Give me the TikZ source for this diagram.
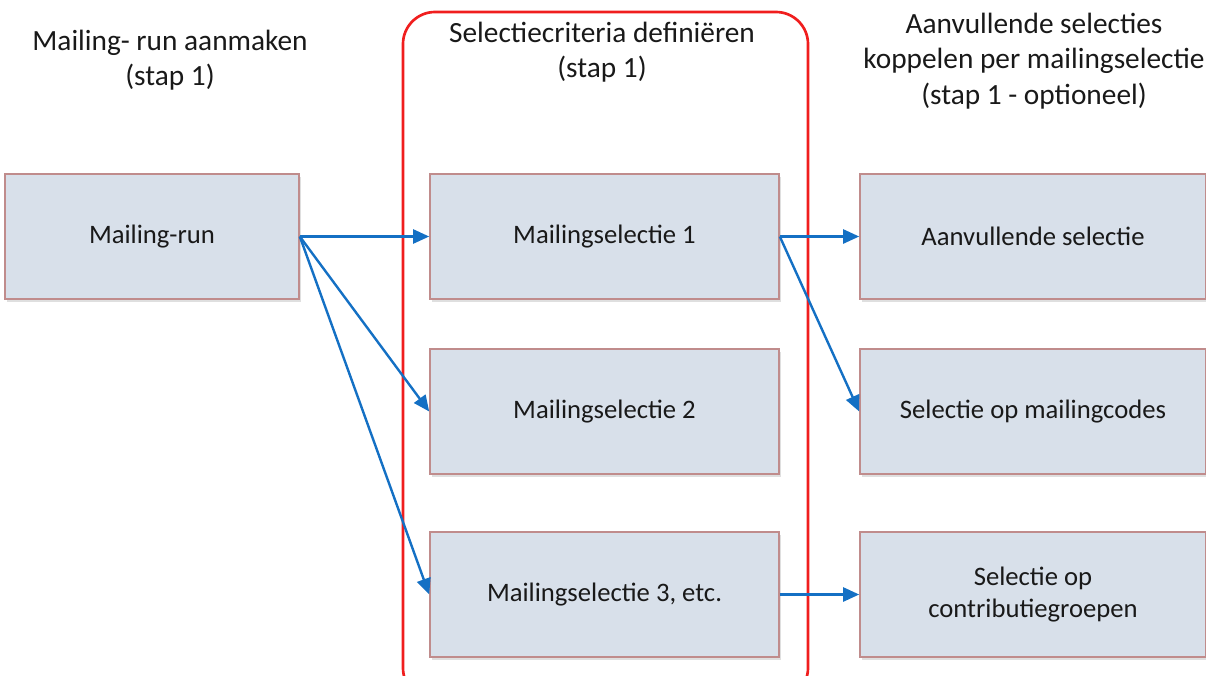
\documentclass[tikz,border=0pt]{standalone}
\usepackage{fontspec}
\setmainfont{Carlito}
\usetikzlibrary{arrows.meta,shadows}
\definecolor{boxfill}{RGB}{216,224,234}
\definecolor{boxline}{RGB}{192,140,140}
\definecolor{arrblue}{RGB}{20,112,196}
\definecolor{frame}{RGB}{240,30,30}
\definecolor{txt}{RGB}{25,25,25}
\begin{document}
\begin{tikzpicture}[x=0.75pt,y=-0.75pt,
  stepbox/.style={draw=boxline,line width=1.2pt,fill=boxfill,inner sep=0pt,
    align=center,font=\fontsize{20}{24}\selectfont,text=txt,
    drop shadow={shadow xshift=1.5pt,shadow yshift=-2pt,opacity=0.25,fill=gray}},
  head/.style={align=center,font=\fontsize{22}{26.5}\selectfont,text=txt,inner sep=0pt},
  conn/.style={draw=arrblue,line width=1.8pt,-{Triangle[length=12pt,width=10.5pt]}}]
\useasboundingbox (0,0) rectangle (1206,675);
\begin{scope}
\clip (0,0) rectangle (1206,675);
% red frame
\draw[frame,line width=2pt,rounded corners=24pt] (403,12) rectangle (808,700);
% headings
\node[head] (h1) at (170,60) {Mailing- run aanmaken\\(stap 1)};
\node[head] (h2) at (602,52) {Selectiecriteria definiëren\\(stap 1)};
\node[head] (h3) at (1034,61) {Aanvullende selecties\\koppelen per mailingselectie\\(stap 1 - optioneel)};
% boxes
\node[stepbox,minimum width=294*0.75pt,minimum height=125*0.75pt] (run) at (152,236.5) {Mailing-run};
\node[stepbox,minimum width=349*0.75pt,minimum height=125*0.75pt] (m1) at (604.5,236.5) {Mailingselectie 1};
\node[stepbox,minimum width=349*0.75pt,minimum height=125*0.75pt] (m2) at (604.5,411.5) {Mailingselectie 2};
\node[stepbox,minimum width=349*0.75pt,minimum height=125*0.75pt] (m3) at (604.5,594.5) {Mailingselectie 3, etc.};
\node[stepbox,minimum width=346*0.75pt,minimum height=125*0.75pt] (a1) at (1033,236.5) {Aanvullende selectie};
\node[stepbox,minimum width=346*0.75pt,minimum height=125*0.75pt] (a2) at (1033,411.5) {Selectie op mailingcodes};
\node[stepbox,minimum width=346*0.75pt,minimum height=125*0.75pt] (a3) at (1033,594.5) {Selectie op\\contributiegroepen};
% connectors
\draw[conn] (run.east) -- (m1.west);
\draw[conn] (run.east) -- (m2.west);
\draw[conn] (run.east) -- (m3.west);
\draw[conn] (m1.east) -- (a1.west);
\draw[conn] (m1.east) -- (a2.west);
\draw[conn] (m3.east) -- (a3.west);
\end{scope}
\end{tikzpicture}
\end{document}
